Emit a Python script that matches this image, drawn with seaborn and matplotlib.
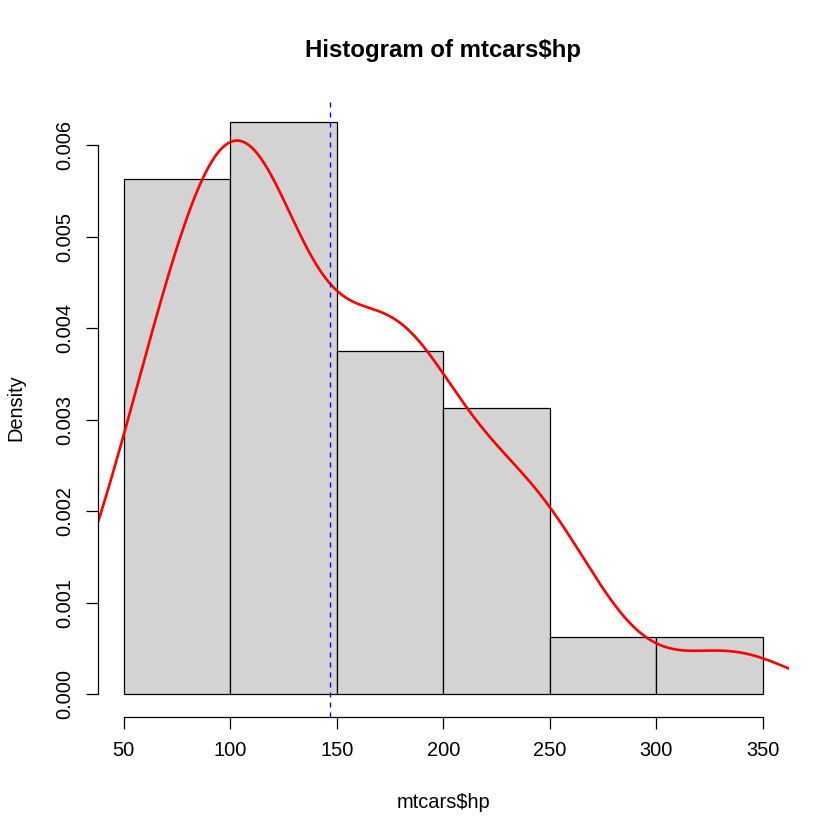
import numpy as np
import pandas as pd
import matplotlib
matplotlib.use("Agg")
import matplotlib.pyplot as plt
import seaborn as sns

# mtcars$hp
hp = [110, 110, 93, 110, 175, 105, 245, 62, 95, 123, 123, 180, 180, 180, 205,
      215, 230, 66, 52, 65, 97, 150, 150, 245, 175, 66, 91, 113, 264, 175, 335, 109]
breaks = [50, 100, 150, 200, 250, 300, 350]
xticks = [50, 100, 150, 200, 250, 300, 350]
yticks = [0.000, 0.001, 0.002, 0.003, 0.004, 0.005, 0.006]
ytick_labels = ["0.000", "0.001", "0.002", "0.003", "0.004", "0.005", "0.006"]

plt.rcParams['font.family'] = ['Liberation Sans', 'DejaVu Sans']
plt.rcParams['font.size'] = 12

df = pd.DataFrame({"hp": hp})
x = np.asarray(hp, dtype=float)

# R's bw.nrd0
sd = x.std(ddof=1)
q1, q3 = np.percentile(x, [25, 75])
bw = 0.9 * min(sd, (q3 - q1) / 1.34) * len(x) ** (-0.2)
mean_hp = x.mean()

fig = plt.figure(figsize=(7, 7), dpi=120)
W = H = 840
ax = fig.add_axes([98 / W, (H - 717) / H, (788.6 - 98) / W, (717 - 99.25) / H])

# R histograms use right-closed intervals
edges = np.asarray(breaks, dtype=float) + 1e-9
sns.histplot(data=df, x="hp", bins=edges, stat="density", color="#D3D3D3",
             edgecolor="black", linewidth=0.75, alpha=1, ax=ax)
sns.kdeplot(data=df, x="hp", bw_method=bw / sd, cut=3, gridsize=512,
            color="red", linewidth=1.6, ax=ax)
ax.axvline(mean_hp, color="blue", linewidth=0.8, linestyle=(0, (3.75, 3.75)))

ax.set_xlim(38, 362)
ax.set_ylim(-0.00025, 0.0065)

for s in ["top", "right"]:
    ax.spines[s].set_visible(False)
ax.spines["left"].set_bounds(0, 0.006)
ax.spines["bottom"].set_bounds(50, 350)
for s in ["left", "bottom"]:
    ax.spines[s].set_linewidth(0.75)
    ax.spines[s].set_color("black")

ax.set_xticks(xticks)
ax.set_xticklabels([str(v) for v in xticks])
ax.set_yticks(yticks)
ax.set_yticklabels(ytick_labels, rotation=90, va="center")
ax.tick_params(direction="out", length=7.2, width=0.75, pad=7.2, labelsize=12,
               colors="black")

ax.set_xlabel("mtcars$hp", fontsize=12)
ax.xaxis.label.set_verticalalignment("center")
ax.xaxis.set_label_coords(0.5, (717 - 802) / 617.75)
ax.set_ylabel("Density", fontsize=12)
ax.yaxis.label.set_verticalalignment("center")
ax.yaxis.set_label_coords((16 - 98) / 690.6, 0.5)

ax.set_title("Histogram of mtcars$hp", fontsize=14.4, fontweight="bold",
             y=(717 - 51) / 617.75, va="center", pad=0)

ax.grid(False)
ax.set_facecolor("white")
fig.patch.set_facecolor("white")
fig.savefig("out.png", dpi=120)
